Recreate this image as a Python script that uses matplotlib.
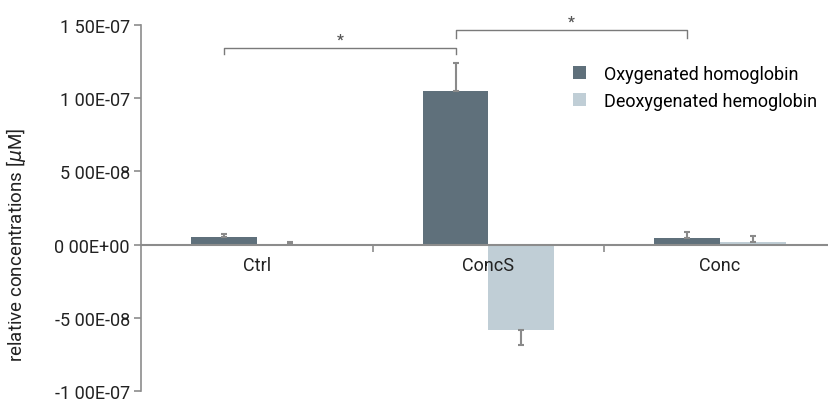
import matplotlib
matplotlib.use("Agg")
import matplotlib.pyplot as plt
import numpy as np

categories = ["Ctrl", "ConcS", "Conc"]
oxy = [5.2e-9, 1.052e-7, 4.7e-9]
oxy_err = [2.2e-9, 1.9e-8, 4.1e-9]
deoxy = [0.2e-9, -5.81e-8, 1.6e-9]
deoxy_err = [1.6e-9, 1.03e-8, 4.5e-9]
yticks = [1.5e-7, 1e-7, 5e-8, 0, -5e-8, -1e-7]
ytick_labels = ["1 50E-07", "1 00E-07", "5 00E-08", "0 00E+00", "-5 00E-08", "-1 00E-07"]
legend_labels = ["Oxygenated homoglobin", "Deoxygenated hemoglobin"]
brackets = [(0, 1, 1.343e-7, 1.30e-7), (1, 2, 1.468e-7, 1.413e-7)]

plt.rcParams['font.family'] = ['Roboto', 'DejaVu Sans']
fig = plt.figure(figsize=(8.29, 4.02), dpi=100)
top_px, bot_px = 26, 392
ax = fig.add_axes([141/829, 1-bot_px/402, 1-141/829, (bot_px-top_px)/402])

c_oxy = "#5f707b"
c_deoxy = "#c0ced6"
c_err = "#8a8a8a"
c_axis = "#8c8c8c"
c_text = "#222222"
w = 0.284
x = np.arange(len(categories))

for s in ['top', 'right']:
    ax.spines[s].set_visible(False)
ax.spines['bottom'].set_position(('data', 0))
ax.spines['bottom'].set_color(c_axis)
ax.spines['bottom'].set_linewidth(1.5)
ax.spines['left'].set_color(c_axis)
ax.spines['left'].set_linewidth(1.2)

ax.bar(x - w/2, oxy, w, color=c_oxy, label=legend_labels[0], zorder=2)
ax.bar(x + w/2, deoxy, w, color=c_deoxy, label=legend_labels[1], zorder=2)

for xi, v, e in zip(x - w/2, oxy, oxy_err):
    lo, hi = (0, e) if v >= 0 else (e, 0)
    ax.errorbar(xi, v, yerr=[[lo], [hi]], fmt='none', ecolor=c_err, elinewidth=1.5, capsize=2.5, capthick=1.5, zorder=3)
for xi, v, e in zip(x + w/2, deoxy, deoxy_err):
    lo, hi = (0, e) if v >= 0 else (e, 0)
    ax.errorbar(xi, v, yerr=[[lo], [hi]], fmt='none', ecolor=c_err, elinewidth=1.5, capsize=2.5, capthick=1.5, zorder=3)

for a, b, top, bot in brackets:
    xa, xb = a - w/2, b - w/2
    ax.plot([xa, xa, xb, xb], [bot, top, top, bot], color="#7a7a7a", lw=1.0, clip_on=False)
    ax.text((xa + xb)/2, top + 0.55e-8, "*", ha='center', va='center', fontsize=11, fontweight='bold', color="#555555", clip_on=False)

ax.set_axisbelow(False)
ax.set_xlim(-0.5, 2.47)
ax.set_ylim(-1e-7, 1.5e-7)
ax.set_yticks(yticks)
ax.set_yticklabels(ytick_labels)
ax.set_xticks(x)
ax.set_xticklabels(categories)
ax.set_xticks([0.5, 1.5], minor=True)
ax.tick_params(axis='x', which='major', length=0, pad=8, labelsize=13, labelcolor=c_text)
ax.tick_params(axis='x', which='minor', length=5, direction='out', color=c_axis, width=1.2)
ax.tick_params(axis='y', length=5, direction='out', color=c_axis, width=1.2, pad=3, labelsize=13, labelcolor=c_text)

ax.set_ylabel("relative concentrations [$\\mu$M]", fontsize=13.5, color=c_text)
ax.yaxis.set_label_coords((28-141)/688, (bot_px-245)/(bot_px-top_px))

ax.legend(loc='upper left', bbox_to_anchor=(0.605, 0.935), frameon=False, fontsize=13,
          handlelength=0.7, handleheight=0.7, handletextpad=1.0, labelspacing=0.5)

fig.savefig("out.png", dpi=100)
